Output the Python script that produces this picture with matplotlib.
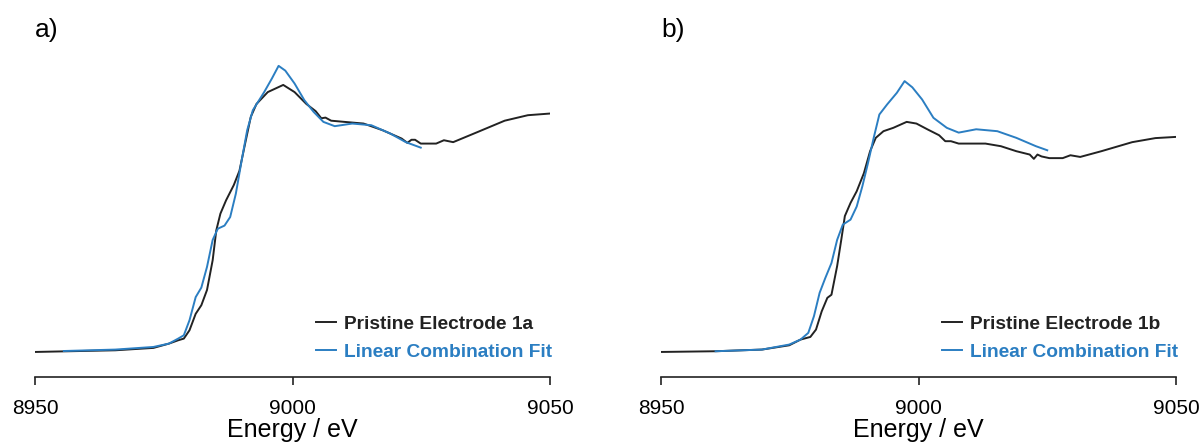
import matplotlib
matplotlib.use("Agg")
import matplotlib.pyplot as plt

plt.rcParams['font.family'] = ['Liberation Sans', 'DejaVu Sans']

# panel a) - pristine electrode 1a, normalised absorbance
energy_1a = [8950, 8965.6, 8973, 8976, 8977.8, 8978.9, 8980, 8981.2, 8982.3, 8983.4,
             8984.5, 8985.2, 8986, 8987.1, 8988.6, 8989.7, 8990.8, 8991.9, 8993, 8995.2,
             8998.2, 9000.4, 9002.7, 9004.5, 9005.6, 9006.4, 9007.5, 9010.1, 9013.8, 9017.5,
             9021.2, 9022.3, 9023.1, 9023.8, 9024.9, 9027.9, 9029.4, 9031.2, 9036, 9041.2,
             9045.7, 9050]
mu_1a = [0.0, 0.007, 0.017, 0.035, 0.049, 0.056, 0.091, 0.16, 0.196, 0.26,
         0.385, 0.51, 0.58, 0.636, 0.70, 0.76, 0.874, 0.986, 1.04, 1.09,
         1.12, 1.09, 1.04, 1.01, 0.98, 0.983, 0.97, 0.965, 0.958, 0.93,
         0.895, 0.877, 0.89, 0.89, 0.874, 0.874, 0.888, 0.88, 0.923, 0.97,
         0.993, 1.0]

energy_fit_a = [8955.6, 8965.6, 8973, 8976, 8977.8, 8978.9, 8980, 8981.2, 8982.3, 8983.4,
                8984.5, 8985.5, 8986.8, 8987.9, 8989, 8990.1, 8991.2, 8992.3, 8994.5, 8996,
                8997.3, 8998.6, 9000.4, 9002.3, 9004.1, 9006, 9008.2, 9011.6, 9015.3, 9019,
                9022, 9024.9]
mu_fit_a = [0.004, 0.01, 0.021, 0.035, 0.056, 0.07, 0.133, 0.23, 0.27, 0.357,
            0.47, 0.517, 0.53, 0.566, 0.664, 0.80, 0.93, 1.014, 1.09, 1.147,
            1.20, 1.18, 1.126, 1.056, 1.007, 0.965, 0.947, 0.958, 0.951, 0.916,
            0.88, 0.857]

# panel b) - pristine electrode 1b
energy_1b = [8950, 8960.6, 8969.6, 8974.9, 8977.1, 8979, 8980.1, 8981.2, 8982.3, 8983.1,
             8984.2, 8985, 8985.7, 8986.8, 8988, 8989.4, 8990.6, 8991.7, 8993.2, 8995.1,
             8997.7, 8999.6, 9001.8, 9004, 9005.2, 9006.3, 9007.8, 9013, 9016, 9019,
             9021.6, 9022.4, 9023.1, 9023.9, 9025.4, 9028, 9029.5, 9031.4, 9035.5, 9041.5,
             9046, 9050]
mu_1b = [0.0, 0.003, 0.01, 0.028, 0.052, 0.063, 0.094, 0.17, 0.227, 0.24,
         0.36, 0.47, 0.57, 0.625, 0.674, 0.75, 0.842, 0.898, 0.926, 0.94,
         0.965, 0.958, 0.933, 0.909, 0.884, 0.884, 0.874, 0.874, 0.863, 0.842,
         0.828, 0.81, 0.828, 0.82, 0.813, 0.813, 0.825, 0.818, 0.842, 0.88,
         0.897, 0.902]

energy_fit_b = [8960.6, 8969.6, 8974.9, 8977.1, 8978.6, 8979.7, 8980.8, 8981.9, 8983.1, 8984.2,
                8985.3, 8986.8, 8988, 8989.1, 8990.2, 8991.3, 8992.4, 8993.9, 8995.8, 8997.3,
                8998.8, 9000.7, 9002.9, 9005.5, 9007.8, 9011.2, 9015.3, 9019, 9022.8, 9025]
mu_fit_b = [0.003, 0.01, 0.031, 0.052, 0.08, 0.15, 0.248, 0.31, 0.373, 0.47,
            0.534, 0.555, 0.61, 0.695, 0.793, 0.898, 0.996, 1.038, 1.087, 1.136,
            1.11, 1.059, 0.982, 0.94, 0.92, 0.934, 0.926, 0.898, 0.863, 0.846]

panels = [("a)", energy_1a, mu_1a, energy_fit_a, mu_fit_a, "Pristine Electrode 1a"),
          ("b)", energy_1b, mu_1b, energy_fit_b, mu_fit_b, "Pristine Electrode 1b")]

black = "#222222"
blue = "#2b7ec2"

fig = plt.figure(figsize=(12.04, 4.43), dpi=100)
lefts = [35 / 1204, 661 / 1204]

for left, (tag, ex, mu, efit, mufit, name) in zip(lefts, panels):
    ax = fig.add_axes([left, 0.149, 515 / 1204, 0.761])
    ax.plot(ex, mu, color=black, lw=1.4, label=name)
    ax.plot(efit, mufit, color=blue, lw=1.4, label="Linear Combination Fit")
    ax.set_xlim(8950, 9050)
    ax.set_ylim(-0.105, 1.309)
    ax.set_xticks([8950, 9000, 9050])
    ax.set_yticks([])
    for s in ["top", "right", "left"]:
        ax.spines[s].set_visible(False)
    ax.spines["bottom"].set_linewidth(1.2)
    ax.spines["bottom"].set_color(black)
    ax.tick_params(axis="x", direction="out", length=6, width=1.2, color=black,
                   labelsize=15, pad=10)
    ax.set_xlabel("Energy / eV", fontsize=18, labelpad=0)
    ax.text(0.0, 1.065, tag, transform=ax.transAxes, fontsize=19, ha="left", va="top")
    ax.legend(loc="lower right", bbox_to_anchor=(1.022, 0.02), frameon=False,
              handlelength=1.0, handletextpad=0.42, labelspacing=0.55, borderpad=0,
              prop={"weight": "bold", "size": 13.8}, labelcolor=[black, blue])

fig.savefig("out.png", dpi=100)
